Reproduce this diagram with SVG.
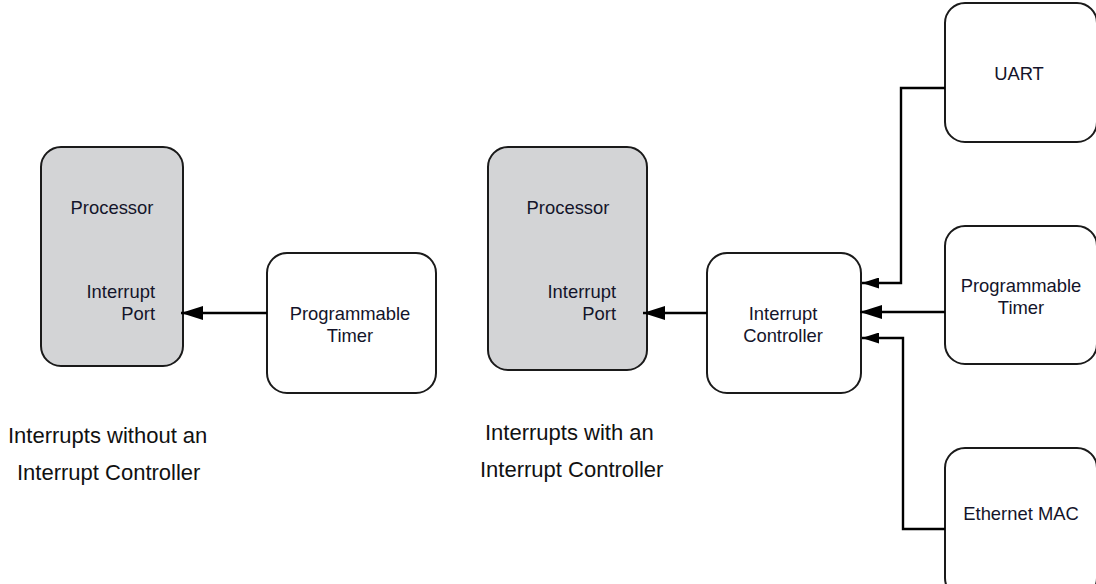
<svg xmlns="http://www.w3.org/2000/svg" width="1096" height="584" viewBox="0 0 1096 584">
  <defs>
    <style>
      .box { fill: #ffffff; stroke: #1a1a1a; stroke-width: 2; }
      .cpu { fill: #d3d4d6; stroke: #1a1a1a; stroke-width: 2; }
      .lbl { font-family: "Liberation Sans", Arial, sans-serif; font-size: 18.4px; fill: #14142a; }
      .cap { font-family: "Liberation Sans", Arial, sans-serif; font-size: 22px; fill: #111111; }
      .wire { fill: none; stroke: #000000; stroke-width: 2.4; }
    </style>
    <marker id="arrow" viewBox="0 0 22 14" refX="22" refY="7" markerWidth="22" markerHeight="14" markerUnits="userSpaceOnUse" orient="auto">
      <path d="M0,0 L22,7 L0,14 Z" fill="#000000"/>
    </marker>
    <marker id="arrowSmall" viewBox="0 0 17 11" refX="17" refY="5.5" markerWidth="17" markerHeight="11" markerUnits="userSpaceOnUse" orient="auto">
      <path d="M0,0 L17,5.5 L0,11 Z" fill="#000000"/>
    </marker>
  </defs>

  <!-- Left: direct interrupt line -->
  <g id="cpu-left">
    <rect class="cpu" x="41" y="147" width="142" height="219" rx="20"/>
    <text class="lbl" x="112" y="214" text-anchor="middle">Processor</text>
    <text class="lbl" x="155" y="298" text-anchor="end">Interrupt</text>
    <text class="lbl" x="155" y="320" text-anchor="end">Port</text>
  </g>
  <g id="timer-left">
    <rect class="box" x="267" y="253" width="169" height="140" rx="20"/>
    <text class="lbl" x="350" y="320" text-anchor="middle">Programmable</text>
    <text class="lbl" x="350" y="342" text-anchor="middle">Timer</text>
  </g>

  <!-- Right: interrupts routed through a controller -->
  <g id="cpu-right">
    <rect class="cpu" x="488" y="147" width="159" height="223" rx="20"/>
    <text class="lbl" x="568" y="214" text-anchor="middle">Processor</text>
    <text class="lbl" x="616" y="298" text-anchor="end">Interrupt</text>
    <text class="lbl" x="616" y="320" text-anchor="end">Port</text>
  </g>
  <g id="intc">
    <rect class="box" x="707" y="253" width="154" height="140" rx="20"/>
    <text class="lbl" x="783" y="320" text-anchor="middle">Interrupt</text>
    <text class="lbl" x="783" y="342" text-anchor="middle">Controller</text>
  </g>
  <g id="uart">
    <rect class="box" x="945" y="3" width="152" height="139" rx="20"/>
    <text class="lbl" x="1019" y="80" text-anchor="middle">UART</text>
  </g>
  <g id="timer-right">
    <rect class="box" x="945" y="226" width="152" height="138" rx="20"/>
    <text class="lbl" x="1021" y="292" text-anchor="middle">Programmable</text>
    <text class="lbl" x="1021" y="314" text-anchor="middle">Timer</text>
  </g>
  <g id="ethernet">
    <rect class="box" x="945" y="448" width="152" height="150" rx="20"/>
    <text class="lbl" x="1021" y="520" text-anchor="middle">Ethernet MAC</text>
  </g>

  <g id="connectors">
    <path class="wire" d="M267,313 H181" marker-end="url(#arrow)"/>
    <path class="wire" d="M707,313 H643" marker-end="url(#arrow)"/>
    <path class="wire" d="M945,88 H901 V283 H862" marker-end="url(#arrowSmall)"/>
    <path class="wire" d="M945,312 H860" marker-end="url(#arrow)"/>
    <path class="wire" d="M945,529 H903 V338 H862" marker-end="url(#arrowSmall)"/>
  </g>

  <g id="captions">
    <text class="cap" x="8" y="443">Interrupts without an</text>
    <text class="cap" x="17" y="480">Interrupt Controller</text>
    <text class="cap" x="485" y="440">Interrupts with an</text>
    <text class="cap" x="480" y="477">Interrupt Controller</text>
  </g>
</svg>
